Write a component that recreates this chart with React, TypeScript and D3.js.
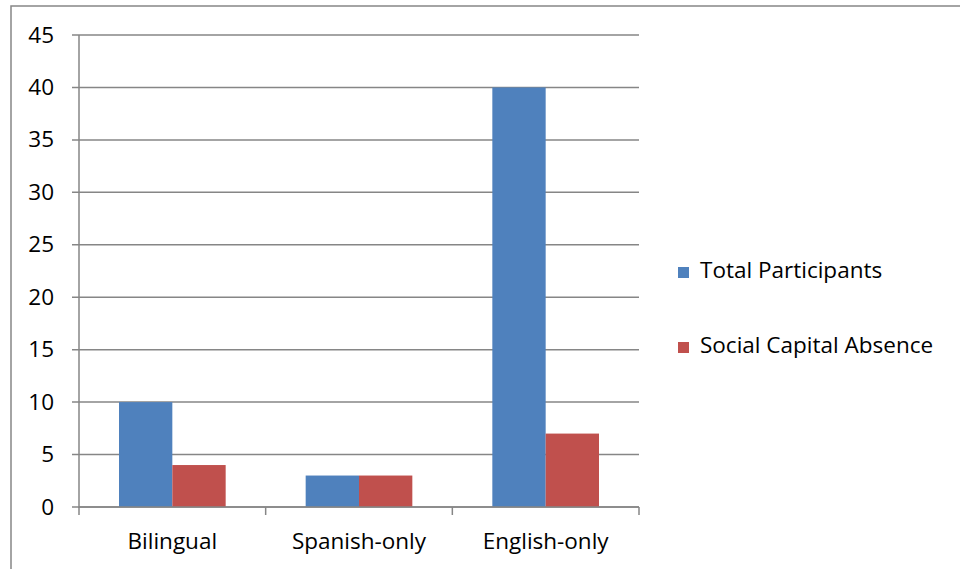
import React from "react";
import * as d3 from "d3";

const categories = ["Bilingual", "Spanish-only", "English-only"];
const seriesNames = ["Total Participants", "Social Capital Absence"];
const totalParticipants = [10, 3, 40];
const socialCapitalAbsence = [4, 3, 7];
const yTicks = [0, 5, 10, 15, 20, 25, 30, 35, 40, 45];
const colors = ["#4F81BD", "#C0504D"];

export default function App() {
  const W = 960, H = 569;
  const left = 79, right = 639, top = 35, bottom = 507;
  const font = "'Open Sans', sans-serif";
  const fs = 22.5;
  const y = d3.scaleLinear().domain([0, 45]).range([bottom, top]);
  const x = d3.scaleBand<string>().domain(categories).range([left, right]).paddingInner(0).paddingOuter(0);
  const inner = d3.scaleBand<number>().domain([0, 1]).range([0, x.bandwidth()]).paddingOuter(0.75);
  const series = [totalParticipants, socialCapitalAbsence];
  const grid = "#868686";
  const catTicks = [left, ...categories.map((c) => (x(c) as number) + x.bandwidth())];
  return (
    <svg width={W} height={H} style={{ position: "absolute", left: 0, top: 0 }}>
      <rect x={0} y={0} width={W} height={H} fill="#fff" />
      <rect x={11} y={6} width={W + 10} height={H + 10} fill="none" stroke="#878787" strokeWidth={1.5} />
      {yTicks.map((t) => (
        <g key={t}>
          <line x1={72} x2={right} y1={y(t)} y2={y(t)} stroke={grid} strokeWidth={1.5} />
          <text x={54} y={y(t) + 7.5} textAnchor="end" fontFamily={font} fontSize={fs} fill="#000">
            {t}
          </text>
        </g>
      ))}
      <line x1={left} x2={left} y1={top} y2={bottom + 1} stroke={grid} strokeWidth={1.5} />
      {catTicks.map((cx, i) => (
        <line key={i} x1={cx} x2={cx} y1={bottom} y2={bottom + 8} stroke={grid} strokeWidth={1.5} />
      ))}
      {categories.map((c, ci) =>
        series.map((s, si) => (
          <rect
            key={c + si}
            x={(x(c) as number) + (inner(si) as number)}
            y={y(s[ci])}
            width={inner.bandwidth()}
            height={y(0) - y(s[ci])}
            fill={colors[si]}
          />
        ))
      )}
      <line x1={left} x2={right} y1={bottom} y2={bottom} stroke={grid} strokeWidth={1.5} />
      {categories.map((c) => (
        <text key={c} x={(x(c) as number) + x.bandwidth() / 2} y={549} textAnchor="middle" fontFamily={font} fontSize={fs} fill="#000">
          {c}
        </text>
      ))}
      {seriesNames.map((n, i) => (
        <g key={n}>
          <rect x={678} y={267 + i * 75} width={11} height={11} fill={colors[i]} />
          <text x={700} y={278 + i * 75} fontFamily={font} fontSize={fs} fill="#000">
            {n}
          </text>
        </g>
      ))}
    </svg>
  );
}
